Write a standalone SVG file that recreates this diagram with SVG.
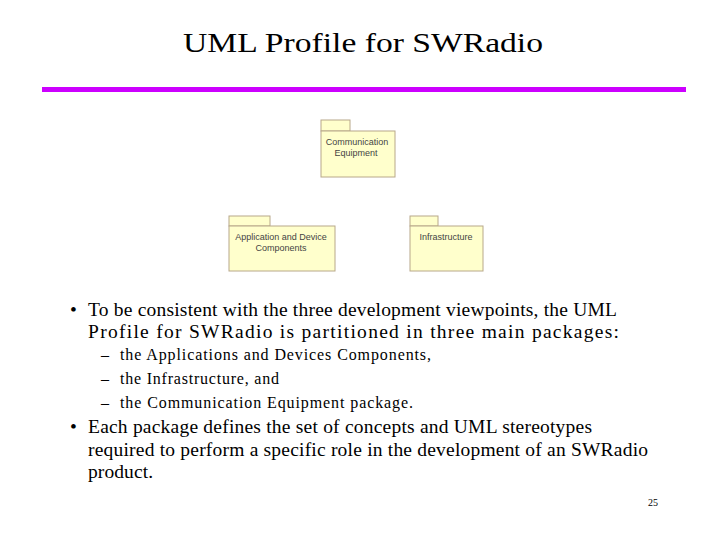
<svg xmlns="http://www.w3.org/2000/svg" width="720" height="540" viewBox="0 0 720 540">
<style>
.pk{fill:#ffffcc;stroke:#b8a88a;stroke-width:1}
.pl{font-family:"Liberation Sans",Arial,sans-serif;font-size:9px;fill:#444;text-anchor:middle}
.b{font-family:"Liberation Serif","Times New Roman",serif;font-size:19.5px;fill:#000}
.s{font-family:"Liberation Serif","Times New Roman",serif;font-size:16px;fill:#000}
</style>
<rect width="720" height="540" fill="#fff"/>
<text x="183" y="52" font-family="Liberation Serif,serif" font-size="28" textLength="360" lengthAdjust="spacingAndGlyphs">UML Profile for SWRadio</text>
<rect x="42" y="87" width="644" height="5" fill="#cc00ff"/>
<g id="comm">
<rect class="pk" x="321" y="120" width="29" height="11"/>
<rect class="pk" x="321" y="131" width="74" height="46"/>
<text class="pl" x="357" y="145">Communication</text>
<text class="pl" x="356" y="156">Equipment</text>
</g>
<g id="app">
<rect class="pk" x="229" y="216" width="41" height="10"/>
<rect class="pk" x="229" y="226" width="106" height="45"/>
<text class="pl" x="281" y="240">Application and Device</text>
<text class="pl" x="281" y="251">Components</text>
</g>
<g id="infra">
<rect class="pk" x="410" y="216" width="28" height="10"/>
<rect class="pk" x="410" y="226" width="73" height="45"/>
<text class="pl" x="446" y="240">Infrastructure</text>
</g>
<g id="connectors"/>
<text class="b" x="70" y="316">•</text>
<text class="b" x="88" y="316" textLength="529">To be consistent with the three development viewpoints, the UML</text>
<text class="b" x="88" y="338" textLength="531">Profile for SWRadio is partitioned in three main packages:</text>
<text class="s" x="101" y="360">–</text>
<text class="s" x="120" y="360" textLength="311">the Applications and Devices Components,</text>
<text class="s" x="101" y="384">–</text>
<text class="s" x="120" y="384" textLength="159">the Infrastructure, and</text>
<text class="s" x="101" y="408">–</text>
<text class="s" x="120" y="408" textLength="293">the Communication Equipment package.</text>
<text class="b" x="70" y="433">•</text>
<text class="b" x="88" y="433" textLength="504">Each package defines the set of concepts and UML stereotypes</text>
<text class="b" x="88" y="456" textLength="560">required to perform a specific role in the development of an SWRadio</text>
<text class="b" x="88" y="478" textLength="65">product.</text>
<text x="648" y="506" font-family="Liberation Serif,serif" font-size="10">25</text>
</svg>
